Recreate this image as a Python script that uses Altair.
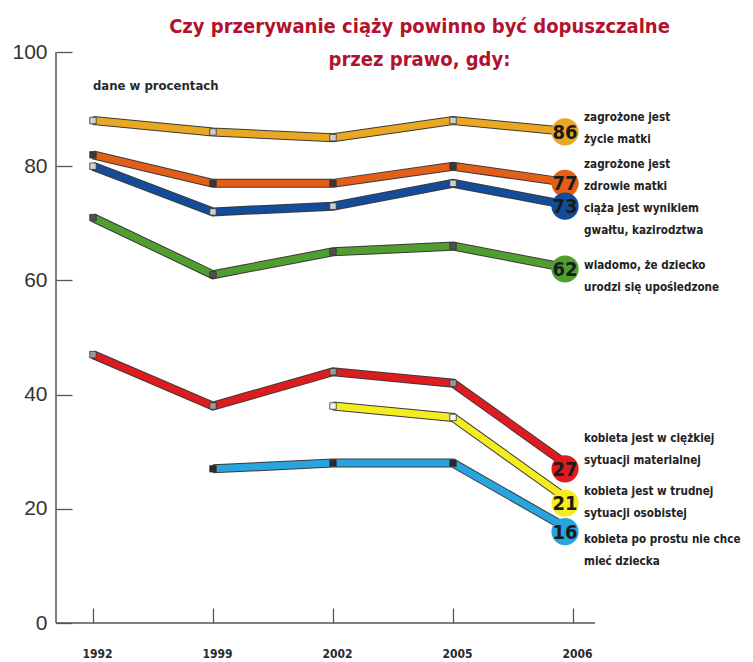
import altair as alt
import pandas as pd

# ---------------- data ----------------
years = ["1992", "1999", "2002", "2005", "2006"]

series_keys = ["zycie", "zdrowie", "gwalt", "uposl", "material", "osobista", "niechce"]
series_labels = [
    "zagrożone jest\nżycie matki",
    "zagrożone jest\nzdrowie matki",
    "ciąża jest wynikiem\ngwałtu, kazirodztwa",
    "wiadomo, że dziecko\nurodzi się upośledzone",
    "kobieta jest w ciężkiej\nsytuacji materialnej",
    "kobieta jest w trudnej\nsytuacji osobistej",
    "kobieta po prostu nie chce\nmieć dziecka",
]
v_zycie = [88, 86, 85, 88, 86]
v_zdrowie = [82, 77, 77, 80, 77]
v_gwalt = [80, 72, 73, 77, 73]
v_uposl = [71, 61, 65, 66, 62]
v_material = [47, 38, 44, 42, 27]
v_osobista = [None, None, 38, 36, 21]
v_niechce = [None, 27, 28, 28, 16]

title_lines = ["Czy przerywanie ciąży powinno być dopuszczalne", "przez prawo, gdy:"]
note_text = "dane w procentach"

# ---------------- styles / layout ----------------
line_colors = ["#EAA822", "#E35E17", "#134D99", "#4F9E2F", "#DD1C1F", "#F5EC1F", "#29A4DE"]
marker_fill = ["#cfcfcf", "#383838", "#cfcfcf", "#505050", "#9a9a9a", "#f4f4f4", "#2a2a2a"]
label_y = [88.4, 80.2, 72.5, 62.5, 32.3, 22.9, 14.5]   # vertical anchor of right-hand labels
note_y = 94

COND = "'Liberation Sans Narrow', 'DejaVu Sans Condensed', 'Roboto Condensed', 'Open Sans Condensed', 'Noto Sans', sans-serif"
PLAIN = "'Liberation Sans', Arial, Helvetica, sans-serif"

W, H = 539, 571
XDOM = [-0.308, 4.183]

all_vals = [v_zycie, v_zdrowie, v_gwalt, v_uposl, v_material, v_osobista, v_niechce]
rows = []
for k, vals, mk in zip(series_keys, all_vals, marker_fill):
    for i, v in enumerate(vals):
        if v is not None:
            rows.append({"s": k, "idx": i, "v": v, "mk": mk})
df = pd.DataFrame(rows)

lab_df = pd.DataFrame({"s": series_keys, "idx": [len(years) - 1] * len(series_keys),
                       "ly": label_y, "t": series_labels})
note_df = pd.DataFrame({"idx": [0], "ly": [note_y], "t": [note_text]})

label_expr = "[" + ",".join("'%s'" % y for y in years) + "][datum.value]"

xscale = alt.Scale(domain=XDOM, nice=False, zero=False)
yscale = alt.Scale(domain=[0, 100], nice=False)

xaxis = alt.Axis(values=list(range(len(years))), labelExpr=label_expr, title=None,
                 domain=False, grid=False, offset=-15, tickSize=15, tickColor="#555",
                 tickWidth=1.3, labelPadding=25, labelOffset=4, labelFont=COND,
                 labelFontWeight="bold", labelFontSize=12, labelColor="#2a2a2a")
yaxis = alt.Axis(values=[0, 20, 40, 60, 80, 100], title=None, domain=False, grid=False,
                 offset=-16, tickSize=16, tickColor="#555", tickWidth=1.3,
                 labelPadding=9, labelFont=PLAIN, labelFontSize=21, labelColor="#333")

X = alt.X("idx:Q", scale=xscale, axis=xaxis)
Y = alt.Y("v:Q", scale=yscale, axis=yaxis)
color = alt.Color("s:N", scale=alt.Scale(domain=series_keys, range=line_colors), legend=None)

base = alt.Chart(df)

outline = base.mark_line(color="#3a3a3a", strokeWidth=9).encode(x=X, y=Y, detail="s:N")
lines = base.mark_line(strokeWidth=7).encode(x=X, y=Y, color=color)
squares = base.transform_filter(alt.datum.idx < 4).mark_square(
    size=42, stroke="#333", strokeWidth=0.8, opacity=1
).encode(x=X, y=Y, fill=alt.Fill("mk:N", scale=None))
circles = base.transform_filter(alt.datum.idx == 4).mark_circle(
    size=740, opacity=1, xOffset=-8
).encode(x=X, y=Y, color=color)
values = base.transform_filter(alt.datum.idx == 4).mark_text(
    font=COND, fontWeight="bold", fontSize=20, color="#1b1b1b", xOffset=-8, dy=1
).encode(x=X, y=Y, text="v:Q")

labels = alt.Chart(lab_df).mark_text(
    align="left", baseline="middle", dx=11, lineBreak="\n", lineHeight=22,
    font=COND, fontWeight="bold", fontSize=11.6, color="#222"
).encode(x=X, y=alt.Y("ly:Q", scale=yscale, axis=yaxis), text="t:N")

note = alt.Chart(note_df).mark_text(
    align="left", baseline="middle", font=COND, fontWeight="bold", fontSize=13, color="#2a2a2a"
).encode(x=X, y=alt.Y("ly:Q", scale=yscale, axis=yaxis), text="t:N")

vrule = alt.Chart(note_df).mark_rule(color="#555", strokeWidth=1.5).encode(
    x=alt.value(0), y=alt.value(0), y2=alt.value(H))
hrule = alt.Chart(note_df).mark_rule(color="#555", strokeWidth=1.5).encode(
    x=alt.value(0), x2=alt.value(W), y=alt.value(H))

chart = alt.layer(
    vrule, hrule, outline, lines, squares, circles, values, labels, note
).properties(
    width=W, height=H,
    title=alt.TitleParams(title_lines, font=COND, fontSize=20, fontWeight="bold",
                          color="#B3122E", anchor="middle", dx=94, dy=49, offset=0,
                          lineHeight=33, baseline="bottom"),
    autosize=alt.AutoSizeParams(type="none"),
    padding={"left": 48, "top": 44, "right": 150, "bottom": 38},
).configure_view(stroke=None)

chart.save("out.html", embed_options={"renderer": "svg", "actions": False})
